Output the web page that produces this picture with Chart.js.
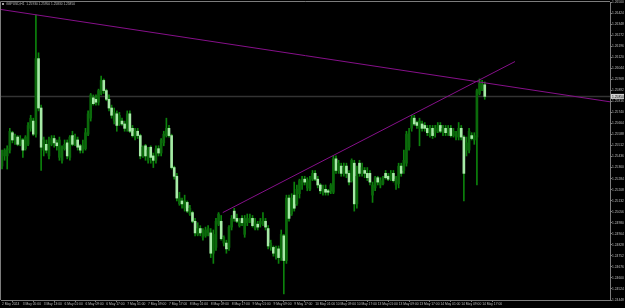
<!DOCTYPE html>
<html>
<head>
<meta charset="utf-8">
<script src="https://cdn.jsdelivr.net/npm/chart.js@4.4.1/dist/chart.umd.min.js"></script>
<style>
  html, body { margin: 0; padding: 0; background: #000; overflow: hidden; }
  canvas { display: block; }
</style>
</head>
<body>
<canvas id="chart" width="625" height="308"></canvas>
<script>
// GBPUSD H1 candles
const symbolName = 'GBPUSD,H1';

// one label every 8 bars
const timeLabels = [
    '2 May 2024', '3 May 05:00', '3 May 13:00', '6 May 01:00', '6 May 09:00', '6 May 17:00',
    '7 May 01:00', '7 May 09:00', '7 May 17:00', '8 May 01:00', '8 May 09:00', '8 May 17:00',
    '9 May 01:00', '9 May 09:00', '9 May 17:00', '10 May 01:00', '10 May 09:00', '10 May 17:00',
    '13 May 01:00', '13 May 09:00', '13 May 17:00', '14 May 01:00', '14 May 09:00', '14 May 17:00'
];

const openPrices = [
    1.2537, 1.2544, 1.2544, 1.2548, 1.2560, 1.2555, 1.2557, 1.2552, 1.2555, 1.2549,
    1.2552, 1.2563, 1.2568, 1.2559, 1.2611, 1.2577, 1.2548, 1.2552, 1.2544, 1.2552,
    1.2556, 1.2553, 1.2543, 1.2541, 1.2549, 1.2553, 1.2543, 1.2558, 1.2552, 1.2555,
    1.2551, 1.2548, 1.2549, 1.2559, 1.2570, 1.2584, 1.2583, 1.2581, 1.2587, 1.2596,
    1.2589, 1.2583, 1.2577, 1.2568, 1.2573, 1.2566, 1.2568, 1.2566, 1.2563, 1.2573,
    1.2563, 1.2557, 1.2561, 1.2558, 1.2544, 1.2551, 1.2541, 1.2550, 1.2544, 1.2541,
    1.2549, 1.2546, 1.2553, 1.2558, 1.2563, 1.2558, 1.2536, 1.2530, 1.2511, 1.2513,
    1.2508, 1.2512, 1.2504, 1.2505, 1.2499, 1.2490, 1.2494, 1.2488, 1.2489, 1.2491,
    1.2491, 1.2477, 1.2481, 1.2497, 1.2499, 1.2484, 1.2484, 1.2481, 1.2495, 1.2506,
    1.2501, 1.2496, 1.2501, 1.2490, 1.2498, 1.2499, 1.2501, 1.2494, 1.2497, 1.2497,
    1.2497, 1.2499, 1.2494, 1.2481, 1.2481, 1.2475, 1.2480, 1.2474, 1.2489, 1.2472,
    1.2515, 1.2504, 1.2517, 1.2511, 1.2518, 1.2524, 1.2528, 1.2522, 1.2521, 1.2528,
    1.2532, 1.2528, 1.2524, 1.2519, 1.2521, 1.2520, 1.2520, 1.2519, 1.2542, 1.2534,
    1.2537, 1.2532, 1.2537, 1.2532, 1.2527, 1.2539, 1.2511, 1.2539, 1.2532, 1.2534,
    1.2532, 1.2532, 1.2517, 1.2522, 1.2529, 1.2524, 1.2525, 1.2532, 1.2530, 1.2528,
    1.2532, 1.2524, 1.2525, 1.2537, 1.2534, 1.2539, 1.2550, 1.2563, 1.2570, 1.2567,
    1.2563, 1.2566, 1.2565, 1.2563, 1.2558, 1.2563, 1.2560, 1.2561, 1.2565, 1.2560,
    1.2563, 1.2560, 1.2563, 1.2558, 1.2557, 1.2557, 1.2563, 1.2557, 1.2548, 1.2548,
    1.2558, 1.2555, 1.2557, 1.2587, 1.2590, 1.2593
];

const highPrices = [
    1.2548, 1.2549, 1.2551, 1.2563, 1.2561, 1.2559, 1.2558, 1.2558, 1.2556, 1.2558,
    1.2567, 1.2572, 1.2570, 1.2641, 1.2615, 1.2579, 1.2557, 1.2555, 1.2557, 1.2558,
    1.2558, 1.2555, 1.2557, 1.2551, 1.2555, 1.2555, 1.2558, 1.2561, 1.2559, 1.2557,
    1.2552, 1.2555, 1.2563, 1.2575, 1.2587, 1.2586, 1.2586, 1.2590, 1.2599, 1.2597,
    1.2590, 1.2586, 1.2579, 1.2577, 1.2575, 1.2574, 1.2570, 1.2568, 1.2575, 1.2575,
    1.2565, 1.2563, 1.2563, 1.2559, 1.2551, 1.2552, 1.2550, 1.2551, 1.2546, 1.2551,
    1.2551, 1.2556, 1.2561, 1.2570, 1.2565, 1.2559, 1.2537, 1.2532, 1.2519, 1.2515,
    1.2517, 1.2513, 1.2510, 1.2506, 1.2501, 1.2498, 1.2496, 1.2494, 1.2495, 1.2496,
    1.2494, 1.2493, 1.2501, 1.2505, 1.2503, 1.2489, 1.2486, 1.2496, 1.2503, 1.2508,
    1.2504, 1.2501, 1.2503, 1.2503, 1.2504, 1.2504, 1.2503, 1.2501, 1.2499, 1.2501,
    1.2505, 1.2501, 1.2496, 1.2486, 1.2482, 1.2482, 1.2482, 1.2493, 1.2490, 1.2517,
    1.2517, 1.2518, 1.2526, 1.2524, 1.2528, 1.2530, 1.2530, 1.2529, 1.2530, 1.2534,
    1.2534, 1.2530, 1.2525, 1.2524, 1.2524, 1.2521, 1.2525, 1.2544, 1.2544, 1.2541,
    1.2539, 1.2539, 1.2539, 1.2534, 1.2542, 1.2541, 1.2537, 1.2541, 1.2539, 1.2536,
    1.2536, 1.2534, 1.2526, 1.2530, 1.2530, 1.2529, 1.2530, 1.2534, 1.2532, 1.2534,
    1.2534, 1.2530, 1.2539, 1.2539, 1.2548, 1.2561, 1.2563, 1.2572, 1.2572, 1.2568,
    1.2570, 1.2568, 1.2567, 1.2565, 1.2565, 1.2565, 1.2565, 1.2567, 1.2567, 1.2565,
    1.2565, 1.2565, 1.2565, 1.2563, 1.2561, 1.2567, 1.2565, 1.2558, 1.2557, 1.2563,
    1.2560, 1.2560, 1.2590, 1.2597, 1.2596, 1.2595
];

const lowPrices = [
    1.2535, 1.2541, 1.2535, 1.2546, 1.2553, 1.2552, 1.2551, 1.2551, 1.2543, 1.2548,
    1.2551, 1.2561, 1.2558, 1.2557, 1.2575, 1.2534, 1.2544, 1.2546, 1.2542, 1.2551,
    1.2550, 1.2548, 1.2541, 1.2539, 1.2548, 1.2542, 1.2541, 1.2551, 1.2551, 1.2548,
    1.2546, 1.2546, 1.2548, 1.2558, 1.2568, 1.2579, 1.2579, 1.2579, 1.2586, 1.2587,
    1.2582, 1.2575, 1.2570, 1.2566, 1.2561, 1.2565, 1.2565, 1.2561, 1.2561, 1.2560,
    1.2557, 1.2555, 1.2556, 1.2542, 1.2543, 1.2541, 1.2539, 1.2539, 1.2536, 1.2539,
    1.2544, 1.2544, 1.2551, 1.2557, 1.2557, 1.2535, 1.2528, 1.2513, 1.2510, 1.2508,
    1.2506, 1.2505, 1.2503, 1.2498, 1.2489, 1.2489, 1.2489, 1.2486, 1.2488, 1.2489,
    1.2474, 1.2470, 1.2479, 1.2496, 1.2486, 1.2482, 1.2477, 1.2479, 1.2493, 1.2499,
    1.2498, 1.2495, 1.2496, 1.2488, 1.2496, 1.2498, 1.2495, 1.2493, 1.2493, 1.2495,
    1.2496, 1.2493, 1.2480, 1.2479, 1.2475, 1.2473, 1.2470, 1.2472, 1.2449, 1.2470,
    1.2499, 1.2503, 1.2506, 1.2510, 1.2515, 1.2521, 1.2524, 1.2520, 1.2520, 1.2527,
    1.2527, 1.2522, 1.2518, 1.2517, 1.2517, 1.2517, 1.2518, 1.2518, 1.2532, 1.2532,
    1.2530, 1.2530, 1.2529, 1.2524, 1.2526, 1.2506, 1.2508, 1.2530, 1.2530, 1.2529,
    1.2527, 1.2524, 1.2512, 1.2520, 1.2524, 1.2522, 1.2524, 1.2528, 1.2527, 1.2527,
    1.2526, 1.2521, 1.2522, 1.2530, 1.2532, 1.2537, 1.2548, 1.2561, 1.2565, 1.2563,
    1.2551, 1.2561, 1.2561, 1.2558, 1.2557, 1.2556, 1.2557, 1.2560, 1.2560, 1.2558,
    1.2558, 1.2558, 1.2557, 1.2557, 1.2555, 1.2555, 1.2555, 1.2513, 1.2544, 1.2546,
    1.2555, 1.2552, 1.2524, 1.2586, 1.2589, 1.2583
];

const closePrices = [
    1.2546, 1.2548, 1.2549, 1.2561, 1.2555, 1.2558, 1.2552, 1.2556, 1.2548, 1.2557,
    1.2565, 1.2570, 1.2559, 1.2611, 1.2577, 1.2550, 1.2555, 1.2548, 1.2555, 1.2556,
    1.2553, 1.2551, 1.2555, 1.2550, 1.2552, 1.2544, 1.2557, 1.2552, 1.2557, 1.2550,
    1.2548, 1.2551, 1.2560, 1.2573, 1.2586, 1.2580, 1.2581, 1.2589, 1.2596, 1.2589,
    1.2583, 1.2577, 1.2572, 1.2574, 1.2565, 1.2572, 1.2566, 1.2563, 1.2573, 1.2561,
    1.2558, 1.2561, 1.2558, 1.2544, 1.2550, 1.2544, 1.2548, 1.2543, 1.2541, 1.2549,
    1.2546, 1.2555, 1.2559, 1.2563, 1.2558, 1.2536, 1.2530, 1.2515, 1.2515, 1.2511,
    1.2513, 1.2506, 1.2508, 1.2499, 1.2491, 1.2494, 1.2491, 1.2491, 1.2493, 1.2494,
    1.2477, 1.2490, 1.2499, 1.2504, 1.2487, 1.2488, 1.2480, 1.2495, 1.2501, 1.2501,
    1.2499, 1.2499, 1.2498, 1.2501, 1.2501, 1.2501, 1.2496, 1.2498, 1.2495, 1.2499,
    1.2501, 1.2495, 1.2482, 1.2484, 1.2477, 1.2480, 1.2474, 1.2490, 1.2472, 1.2515,
    1.2501, 1.2515, 1.2508, 1.2521, 1.2527, 1.2528, 1.2526, 1.2527, 1.2528, 1.2532,
    1.2528, 1.2524, 1.2520, 1.2521, 1.2519, 1.2519, 1.2524, 1.2542, 1.2534, 1.2539,
    1.2532, 1.2536, 1.2532, 1.2526, 1.2541, 1.2511, 1.2530, 1.2532, 1.2536, 1.2532,
    1.2529, 1.2526, 1.2524, 1.2529, 1.2526, 1.2527, 1.2529, 1.2529, 1.2528, 1.2532,
    1.2527, 1.2528, 1.2537, 1.2532, 1.2541, 1.2559, 1.2560, 1.2570, 1.2566, 1.2565,
    1.2568, 1.2563, 1.2563, 1.2560, 1.2563, 1.2558, 1.2563, 1.2565, 1.2561, 1.2563,
    1.2560, 1.2563, 1.2558, 1.2561, 1.2559, 1.2563, 1.2557, 1.2532, 1.2553, 1.2561,
    1.2556, 1.2558, 1.2589, 1.2594, 1.2593, 1.2585
];

// right-hand price scale labels
const priceTicks = [
    1.26500, 1.26424, 1.26348, 1.26272, 1.26196, 1.26120, 1.26044, 1.25968, 1.25892, 1.25816,
    1.25740, 1.25664, 1.25588, 1.25512, 1.25436, 1.25360, 1.25284, 1.25208, 1.25132, 1.25056,
    1.24980, 1.24904, 1.24828, 1.24752, 1.24676, 1.24600, 1.24524, 1.24448
];

// the two purple trend lines (bar index / price anchors)
const resistanceBars = [-1, 234];
const resistancePrices = [1.2645, 1.2581];
const supportBars = [84.6, 196.6];
const supportPrices = [1.2505, 1.2609];

const X_MIN = -0.38;
const X_MAX = 233.0;

const UP_BODY = '#0b6a0b';
const DOWN_BODY = '#a6eaa6';
const WICK = '#0c820c';
const TREND = '#86108a';
const AXIS = '#7c7c7c';
const TEXT = '#bdbdbd';
const FONT = "'Liberation Sans', Arial, sans-serif";

const lastBar = closePrices.length - 1;
const lastClose = closePrices[lastBar];

const wickData = lowPrices.map((low, i) => ({ x: i, y: [low, highPrices[i]] }));
const bodyData = openPrices.map((open, i) => ({ x: i, y: [open, closePrices[i]] }));
const bodyColors = openPrices.map((open, i) => closePrices[i] >= open ? UP_BODY : DOWN_BODY);

const mtOverlay = {
    id: 'mtOverlay',
    afterDraw(chart) {
        const ctx = chart.ctx;
        const area = chart.chartArea;
        const yScale = chart.scales.y;
        ctx.save();

        // frame on the left and top, like the terminal window
        ctx.strokeStyle = AXIS;
        ctx.lineWidth = 1;
        ctx.beginPath();
        ctx.moveTo(0.5, area.bottom);
        ctx.lineTo(0.5, area.top - 0.5);
        ctx.lineTo(area.right, area.top - 0.5);
        ctx.stroke();

        // symbol header with OHLC of the last bar
        ctx.fillStyle = '#a0a0a0';
        ctx.fillRect(2, 3, 2, 2);
        ctx.fillStyle = TEXT;
        ctx.font = '3.2px ' + FONT;
        ctx.textBaseline = 'middle';
        ctx.textAlign = 'left';
        const header = symbolName + '  ' + [openPrices[lastBar], highPrices[lastBar], lowPrices[lastBar], lastClose]
            .map(v => v.toFixed(5)).join(' ');
        ctx.fillText(header, 6, 4.2);

        // bid price tag on the axis
        const py = yScale.getPixelForValue(lastClose);
        ctx.fillStyle = '#d4d4d4';
        ctx.fillRect(area.right + 1, py - 2.5, 13, 5);
        ctx.fillStyle = '#000';
        ctx.font = '3.3px ' + FONT;
        ctx.fillText(lastClose.toFixed(5), area.right + 2, py + 0.2);
        ctx.restore();
    }
};

Chart.defaults.font.family = FONT;

new Chart(document.getElementById('chart'), {
    type: 'bar',
    data: {
        datasets: [
            {
                type: 'line',
                label: 'resistance',
                data: resistanceBars.map((b, i) => ({ x: b, y: resistancePrices[i] })),
                borderColor: TREND,
                borderWidth: 1,
                pointRadius: 0,
                order: 0
            },
            {
                type: 'line',
                label: 'support',
                data: supportBars.map((b, i) => ({ x: b, y: supportPrices[i] })),
                borderColor: TREND,
                borderWidth: 1,
                pointRadius: 0,
                order: 0
            },
            {
                label: 'body',
                data: bodyData,
                backgroundColor: bodyColors,
                barThickness: 2,
                minBarLength: 1,
                grouped: false,
                order: 1
            },
            {
                label: 'wick',
                data: wickData,
                backgroundColor: WICK,
                barThickness: 1,
                grouped: false,
                order: 2
            },
            {
                type: 'line',
                label: 'bid',
                data: [{ x: X_MIN, y: lastClose }, { x: X_MAX, y: lastClose }],
                borderColor: '#333333',
                borderWidth: 1.5,
                pointRadius: 0,
                order: 5
            }
        ]
    },
    options: {
        responsive: false,
        animation: false,
        devicePixelRatio: 1,
        layout: { padding: { left: 1, top: 2, right: 0, bottom: 0 } },
        plugins: {
            legend: { display: false },
            tooltip: { enabled: false }
        },
        scales: {
            x: {
                type: 'linear',
                min: X_MIN,
                max: X_MAX,
                offset: false,
                afterFit: s => { s.height = 8; },
                afterBuildTicks: s => { s.ticks = timeLabels.map((_, k) => ({ value: k * 8 })); },
                grid: { drawOnChartArea: false, drawTicks: true, tickLength: 2, color: AXIS },
                border: { color: AXIS },
                ticks: {
                    autoSkip: false,
                    maxRotation: 0,
                    align: 'start',
                    padding: 0,
                    color: TEXT,
                    font: { size: 3.3 },
                    callback: value => timeLabels[Math.round(value / 8)]
                }
            },
            y: {
                position: 'right',
                min: priceTicks[priceTicks.length - 1],
                max: priceTicks[0],
                afterFit: s => { s.width = 15; },
                afterBuildTicks: s => { s.ticks = priceTicks.map(v => ({ value: v })); },
                grid: { drawOnChartArea: false, drawTicks: true, tickLength: 2, color: AXIS },
                border: { color: AXIS },
                ticks: {
                    autoSkip: false,
                    padding: 0,
                    color: TEXT,
                    font: { size: 3.3 },
                    callback: value => Number(value).toFixed(5)
                }
            }
        }
    },
    plugins: [mtOverlay]
});
</script>
</body>
</html>
